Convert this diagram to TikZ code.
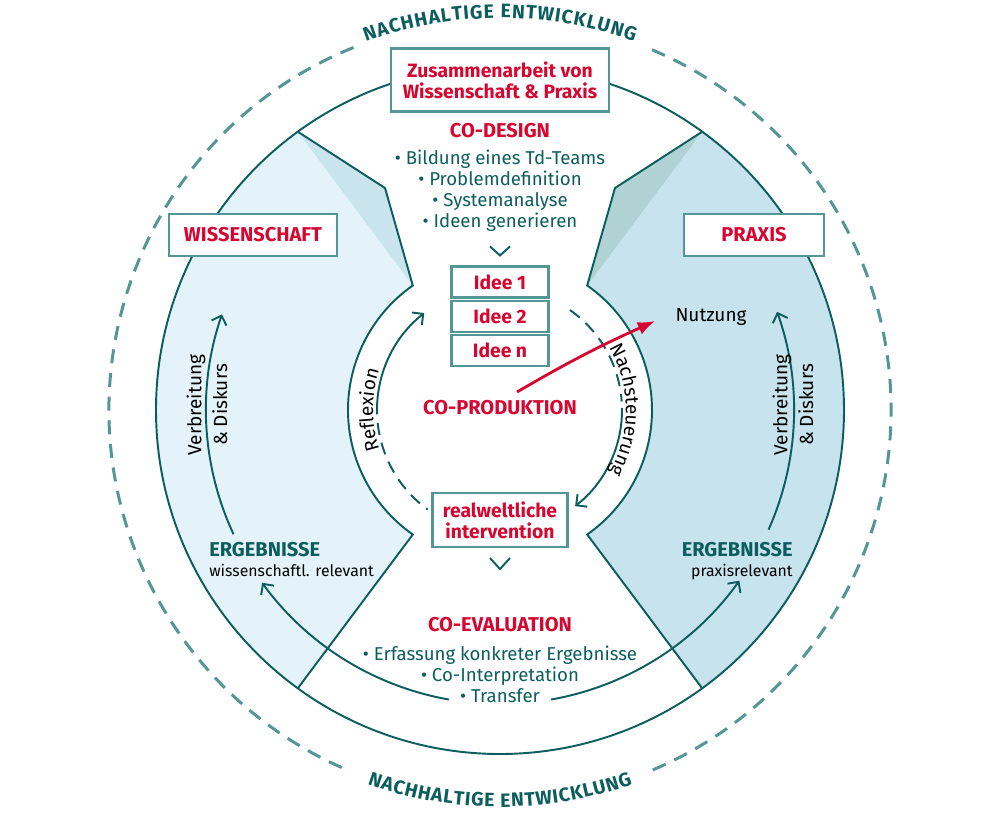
\documentclass[tikz,border=0pt]{standalone}
\usepackage{fontspec}
\setmainfont{Fira Sans}
\usetikzlibrary{arrows.meta,positioning,decorations.text}
\definecolor{tealdark}{RGB}{12,93,94}
\definecolor{tealsoft}{RGB}{84,150,150}
\definecolor{brandred}{RGB}{215,6,48}
\definecolor{wisblue}{RGB}{228,243,250}
\definecolor{wisshade}{RGB}{201,228,237}
\definecolor{praxblue}{RGB}{199,227,237}
\definecolor{praxshade}{RGB}{177,210,213}

\newcommand{\bodyfont}{\fontsize{10.6}{11.9}\selectfont}
\newcommand{\titlefont}{\fontsize{11}{11.9}\selectfont\bfseries}
\newcommand{\capsfont}{\fontsize{11.4}{12}\selectfont\bfseries}
\newcommand{\smallfont}{\fontsize{9}{10}\selectfont}
\newcommand{\ringfont}{\fontsize{11}{12}\selectfont\bfseries}
\newcommand{\loopfont}{\fontsize{10.8}{12}\selectfont}

\tikzset{
  ringline/.style={draw=tealdark, line width=1.1pt},
  flowarc/.style={draw=tealdark, line width=1.1pt, -{Straight Barb[length=4.5pt,width=9pt]}},
  loopdash/.style={draw=tealdark, line width=1.1pt, dash pattern=on 7pt off 4.5pt},
  redbox/.style={draw=tealsoft, line width=1.2pt, fill=white, text=brandred, font=\titlefont, align=center, inner sep=2pt},
  ideebox/.style={redbox, minimum width=1.94cm, minimum height=0.62cm},
  bodytext/.style={text=tealdark, font=\bodyfont, align=center},
  redtitle/.style={text=brandred, font=\capsfont},
  ergtitle/.style={text=tealdark, font=\capsfont, inner sep=0pt},
  flowtext/.style={font=\fontsize{10.8}{14.7}\selectfont, align=center, rotate=90},
  chev/.style={draw=tealdark, line width=1.1pt},
  redarrow/.style={draw=brandred, line width=1.6pt, -{Latex[length=10pt,width=7.5pt]}},
}

\begin{document}
\begin{tikzpicture}[x=0.02cm, y=0.02cm]
\useasboundingbox (-500,-404) rectangle (500,410);

% shaded sectors
\fill[wisblue] (126:344) arc[start angle=126, end angle=234, radius=344] -- (235:152)
  arc[start angle=235, end angle=125, radius=152] -- (-115,222) -- cycle;
\fill[wisshade] (126:344) -- (-115,222) -- (125:152) -- cycle;
\fill[praxblue] (54:344) arc[start angle=54, end angle=-54, radius=344] -- (-55:152)
  arc[start angle=-55, end angle=55, radius=152] -- (115,222) -- cycle;
\fill[praxshade] (54:344) -- (115,222) -- (55:152) -- cycle;

% rings
\draw[ringline] (0,0) circle[radius=344];
\draw[ringline] (126:344) -- (-115,222) -- (125:152) arc[start angle=125, end angle=235, radius=152] -- (234:344);
\draw[ringline] (54:344) -- (115,222) -- (55:152) arc[start angle=55, end angle=-55, radius=152] -- (-54:344);
\draw[tealsoft, line width=1.7pt, dash pattern=on 8pt off 5.5pt] (112:391) arc[start angle=112, end angle=247, radius=391];
\draw[tealsoft, line width=1.7pt, dash pattern=on 8pt off 5.5pt] (-67:391) arc[start angle=-67, end angle=68, radius=391];

% ring text
\path[decorate, decoration={text along path, text color=tealdark, text align={fit to path},
  text={|\ringfont|NACHHALTIGE ENTWICKLUNG}}] (110:392) arc[start angle=110, end angle=70, radius=392];
\path[decorate, decoration={text along path, text color=tealdark, text align={fit to path},
  text={|\ringfont|NACHHALTIGE ENTWICKLUNG}}] (250.5:397) arc[start angle=250.5, end angle=289.5, radius=397];

% circulation arcs
\draw[flowarc] (205:294) arc[start angle=205, end angle=161, radius=294];
\draw[flowarc] (-24:294) arc[start angle=-24, end angle=19.5, radius=294];
\draw[flowarc] (-100:294) arc[start angle=-100, end angle=-144, radius=294];
\draw[flowarc] (-80:294) arc[start angle=-80, end angle=-35.5, radius=294];

% co-production loop
\draw[flowarc] (182:123) arc[start angle=182, end angle=128, radius=123];
\draw[loopdash] (186:123) arc[start angle=186, end angle=234, radius=123];
\draw[loopdash] (55:122) arc[start angle=55, end angle=4, radius=122];
\draw[flowarc] (1:122) arc[start angle=1, end angle=-52, radius=122];
\path[decorate, decoration={text along path, text align=center,
  text={|\loopfont|Reflexion}}] (200:127) arc[start angle=200, end angle=160, radius=127];
\path[decorate, decoration={text along path, text align=center,
  text={|\loopfont|Nachsteuerung}}] (32:126) arc[start angle=32, end angle=-32, radius=126];

% boxes
\node[redbox, minimum width=4.36cm, minimum height=1.26cm] (coop) at (0,330) {Zusammenarbeit von\\Wissenschaft \& Praxis};
\node[redbox, font=\capsfont, minimum width=3.36cm, minimum height=0.84cm] (wiss) at (-247,175) {WISSENSCHAFT};
\node[redbox, font=\capsfont, minimum width=2.8cm, minimum height=0.84cm] (praxis) at (254,175) {PRAXIS};

% co-design
\node[redtitle] (codesign) at (0,279) {CO-DESIGN};
\node[bodytext] (designlist) at (0,219) {\textbullet{} Bildung eines Td-Teams\\\textbullet{} Problemdefinition\\\textbullet{} Systemanalyse\\\textbullet{} Ideen generieren};
\node[ideebox] (idee1) at (0,128) {Idee 1};
\node[ideebox, below=0.02cm of idee1] (idee2) {Idee 2};
\node[ideebox, below=0.02cm of idee2] (idee3) {Idee n};
\draw[chev] ([shift={(-10,19)}]idee1.north) -- ++(10,-9) -- ++(10,9);

% co-production
\node[redtitle] (coprod) at (0,2) {CO-PRODUKTION};
\node[font=\loopfont] (nutzung) at (211,93) {Nutzung};
\coordinate (prodout) at (17,18);
\draw[redarrow] (prodout) to[bend left=3] ([shift={(-14,-4)}]nutzung.west);
\node[redbox, minimum width=2.7cm, minimum height=1.08cm] (interv) at (0,-110) {realweltliche\\intervention};
\draw[chev] ([shift={(-10,-10)}]interv.south) -- ++(10,-11) -- ++(10,11);

% co-evaluation
\node[redtitle] (coeval) at (0,-215) {CO-EVALUATION};
\node[bodytext] (evallist) at (0,-264) {\textbullet{} Erfassung konkreter Ergebnisse\\\textbullet{} Co-Interpretation\\\textbullet{} Transfer};

% results
\node[ergtitle, anchor=west] (ergwiss) at (-291,-139.5) {ERGEBNISSE};
\node[font=\smallfont, inner sep=0pt, anchor=north west] (wissrel) at ([yshift=-4]ergwiss.south west) {wissenschaftl. relevant};
\node[ergtitle, anchor=east] (ergprax) at (293,-139.5) {ERGEBNISSE};
\node[font=\smallfont, inner sep=0pt, anchor=north east] (praxrel) at ([yshift=-4]ergprax.south east) {praxisrelevant};

% spread
\node[flowtext] (verbwiss) at (-293,5) {Verbreitung\\\& Diskurs};
\node[flowtext] (verbprax) at (293,5) {Verbreitung\\\& Diskurs};
\end{tikzpicture}
\end{document}
